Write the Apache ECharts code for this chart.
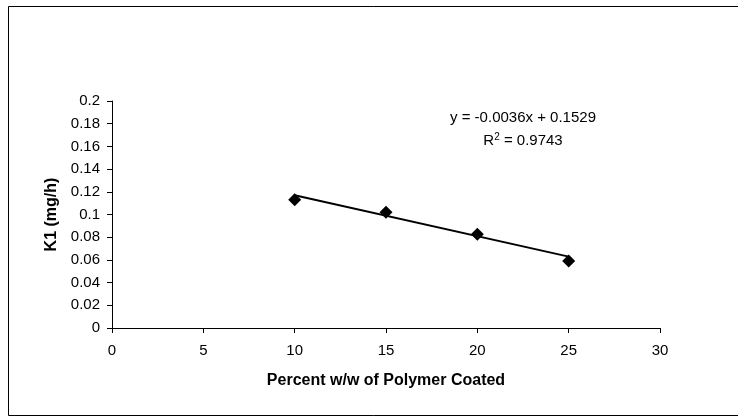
<!DOCTYPE html>
<html>
<head>
<meta charset="utf-8">
<script src="https://cdn.jsdelivr.net/npm/echarts@6/dist/echarts.min.js"></script>
<style>
  html, body { margin: 0; padding: 0; background: #fff; }
  #chart { width: 738px; height: 417px; }
</style>
</head>
<body>
<div id="chart"></div>
<script>
// 数据
const coatPercent = [10, 15, 20, 25];
const k1Values = [0.113, 0.102, 0.0825, 0.059];
// 趋势线两端 (y = -0.0036x + 0.1529)
const trendX = [10, 25];
const trendY = [0.1169, 0.0629];
const eqText = "y = -0.0036x + 0.1529";
const r2Value = "0.9743";

const myChart = echarts.init(document.querySelector("#chart"));
const font = "Liberation Sans, Arial, sans-serif";

const option = {
  animation: false,
  backgroundColor: "#fff",
  grid: { left: 112, right: 78, top: 101, bottom: 89 },
  xAxis: {
    type: "value",
    min: 0,
    max: 30,
    interval: 5,
    name: "Percent w/w of Polymer Coated",
    nameLocation: "middle",
    nameGap: 45,
    nameTextStyle: { fontFamily: font, fontSize: 16, fontWeight: "bold", color: "#000" },
    axisLine: { lineStyle: { color: "#000", width: 1 } },
    axisTick: { show: true, length: 5, lineStyle: { color: "#000" } },
    axisLabel: { fontFamily: font, fontSize: 15, color: "#000", margin: 15 },
    splitLine: { show: false },
  },
  yAxis: {
    type: "value",
    min: 0,
    max: 0.2,
    interval: 0.02,
    name: "K1 (mg/h)",
    nameLocation: "middle",
    nameRotate: 90,
    nameGap: 50,
    nameTextStyle: { fontFamily: font, fontSize: 16, fontWeight: "bold", color: "#000" },
    axisLine: { show: true, lineStyle: { color: "#000", width: 1 } },
    axisTick: { show: true, length: 5, lineStyle: { color: "#000" } },
    axisLabel: { fontFamily: font, fontSize: 15, color: "#000", margin: 12 },
    splitLine: { show: false },
  },
  series: [
    {
      type: "line",
      data: trendX.map((x, i) => [x, trendY[i]]),
      showSymbol: false,
      lineStyle: { color: "#000", width: 2 },
      z: 2,
    },
    {
      type: "scatter",
      data: coatPercent.map((x, i) => [x, k1Values[i]]),
      symbol: "diamond",
      symbolSize: 13,
      itemStyle: { color: "#000", opacity: 1 },
      z: 3,
    },
  ],
  graphic: [
    {
      type: "rect",
      shape: { x: 8.5, y: 6.5, width: 740, height: 409 },
      style: { fill: "none", stroke: "#000", lineWidth: 1 },
      silent: true,
    },
    {
      type: "text",
      x: 523,
      y: 118,
      style: {
        text: eqText,
        font: "15px " + font,
        fill: "#000",
        align: "center",
        verticalAlign: "middle",
      },
    },
    {
      type: "text",
      x: 523,
      y: 141,
      style: {
        text: "{a|R}{s|2}{a| = " + r2Value + "}",
        align: "center",
        verticalAlign: "middle",
        rich: {
          a: { fontFamily: font, fontSize: 15, fill: "#000", color: "#000" },
          s: { fontFamily: font, fontSize: 10, fill: "#000", color: "#000", padding: [0, 0, 7, 0] },
        },
      },
    },
  ],
};
myChart.setOption(option);
</script>
</body>
</html>
